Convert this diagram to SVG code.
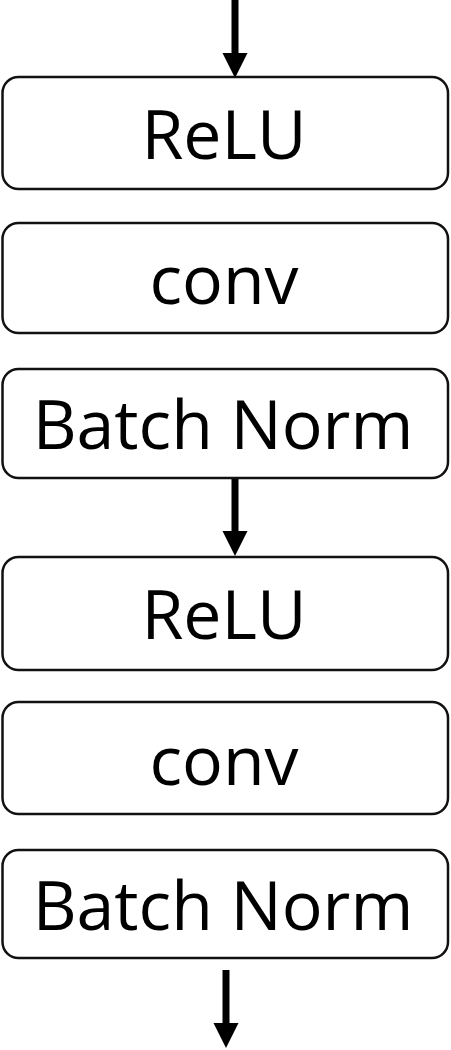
<svg xmlns="http://www.w3.org/2000/svg" width="451" height="1050" viewBox="0 0 451 1050">
<defs>
<style>
.box{fill:#fff;stroke:#111;stroke-width:2.5}
.lbl{font-family:"Open Sans","Liberation Sans",sans-serif;font-size:68px;fill:#000;text-anchor:middle}
.arr{stroke:#000;stroke-width:7;fill:none}
</style>
<marker id="ah" markerUnits="userSpaceOnUse" markerWidth="26" markerHeight="26" refX="0" refY="12.5" orient="auto" viewBox="0 0 26 25">
<path d="M0,0 L25,12.5 L0,25 Z" fill="#000"/>
</marker>
</defs>
<rect width="451" height="1050" fill="#fff"/>
<g id="connectors">
<path class="arr" d="M235,0 V53" marker-end="url(#ah)"/>
<path class="arr" d="M235,478 V531" marker-end="url(#ah)"/>
<path class="arr" d="M226,970 V1023" marker-end="url(#ah)"/>
</g>
<g id="relu1"><rect class="box" x="2.5" y="77" width="445.5" height="112" rx="16"/><text class="lbl" x="224" y="159">ReLU</text></g>
<g id="conv1"><rect class="box" x="2.5" y="223" width="445.5" height="110" rx="16"/><text class="lbl" x="224" y="304">conv</text></g>
<g id="bn1"><rect class="box" x="2.5" y="369" width="445.5" height="109" rx="16"/><text class="lbl" x="223" y="449">Batch Norm</text></g>
<g id="relu2"><rect class="box" x="2.5" y="557" width="445.5" height="113" rx="16"/><text class="lbl" x="224" y="639">ReLU</text></g>
<g id="conv2"><rect class="box" x="2.5" y="702" width="445.5" height="112" rx="16"/><text class="lbl" x="224" y="785">conv</text></g>
<g id="bn2"><rect class="box" x="2.5" y="850" width="445.5" height="108" rx="16"/><text class="lbl" x="223" y="930">Batch Norm</text></g>
</svg>
